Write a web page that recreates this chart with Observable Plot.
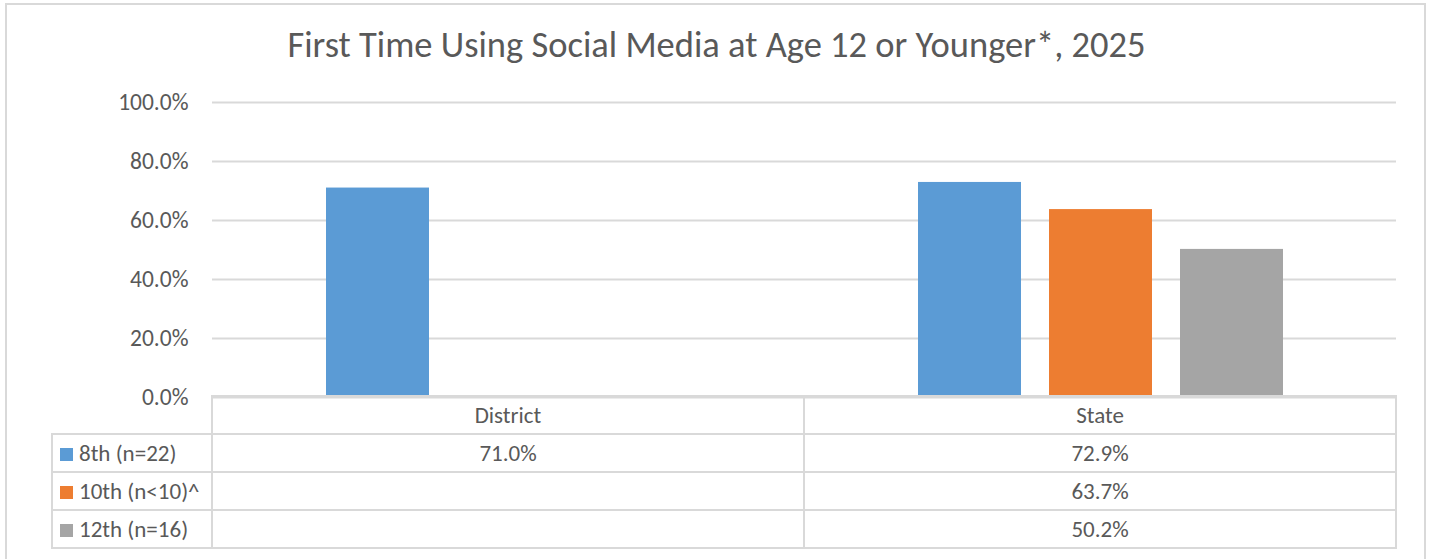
<!DOCTYPE html>
<html>
<head>
<meta charset="utf-8">
<script src="https://cdn.jsdelivr.net/npm/d3@7"></script>
<script src="https://cdn.jsdelivr.net/npm/@observablehq/plot@0.6"></script>
<style>
  html, body { margin: 0; padding: 0; background: #fff; }
  #wrap { position: relative; width: 1433px; height: 559px; overflow: hidden; font-family: Calibri, Carlito, Lato, sans-serif; color: #595959; }
  #frame { position: absolute; left: 5px; top: 3px; width: 1421px; height: 600px; border: 2px solid #d9d9d9; box-sizing: border-box; }
  #title { position: absolute; left: 0; width: 1433px; top: 25px; text-align: center; font-size: 36.5px; line-height: 40px; white-space: nowrap; }
  #chart { position: absolute; left: 0; top: 80px; }
  #tbl { position: absolute; left: 51px; top: 395px; border-collapse: collapse; font-size: 23px; table-layout: fixed; }
  #tbl td { border: 2px solid #d9d9d9; height: 36px; padding: 0; text-align: center; white-space: nowrap; }
  #tbl td.lab { text-align: left; padding-left: 7px; }
  #tbl td.blank { border-top: hidden; border-left: hidden; }
  .sw { display: inline-block; width: 13px; height: 13px; margin-right: 6px; vertical-align: 0px; }
</style>
</head>
<body>
<div id="wrap">
  <div id="frame"></div>
  <div id="title"></div>
  <div id="chart"></div>
  <table id="tbl"></table>
</div>
<script>
const title = "First Time Using Social Media at Age 12 or Younger*, 2025";
const places = ["District", "State"];
const grades = ["8th (n=22)", "10th (n<10)^", "12th (n=16)"];
const districtValues = [71.0, null, null];
const stateValues = [72.9, 63.7, 50.2];
const gradeColors = ["#5B9BD5", "#ED7D31", "#A5A5A5"];
const yTicks = [0, 20, 40, 60, 80, 100];

const valuesByPlace = {District: districtValues, State: stateValues};
const data = [];
for (const p of places) {
  grades.forEach((g, i) => {
    const v = valuesByPlace[p][i];
    if (v != null) data.push({place: p, grade: g, value: v});
  });
}

document.getElementById("title").textContent = title;

const chart = Plot.plot({
  width: 1433,
  height: 340,
  marginTop: 22,
  marginBottom: 23,
  marginLeft: 212,
  marginRight: 37,
  style: {fontSize: "23.5px", fontFamily: "Calibri, Carlito, Lato, sans-serif", color: "#595959", background: "transparent", overflow: "visible"},
  fx: {domain: places, padding: 0, axis: null},
  x: {domain: grades, paddingInner: 0.214, paddingOuter: 0.866, axis: null},
  y: {domain: [0, 100], ticks: yTicks, tickFormat: d => d.toFixed(1) + "%", tickSize: 0, tickPadding: 24, label: null},
  color: {domain: grades, range: gradeColors},
  marks: [
    Plot.ruleY(yTicks, {stroke: "#d9d9d9", strokeWidth: 2}),
    Plot.barY(data, {fx: "place", x: "grade", y: "value", fill: "grade", inset: 0})
  ]
});
document.getElementById("chart").appendChild(chart);

// data table under the chart
const tbl = document.getElementById("tbl");
const colW = [160, 592, 592];
const cg = document.createElement("colgroup");
colW.forEach(w => { const c = document.createElement("col"); c.style.width = w + "px"; cg.appendChild(c); });
tbl.appendChild(cg);
const hr = document.createElement("tr");
const blank = document.createElement("td"); blank.className = "blank"; hr.appendChild(blank);
places.forEach(p => { const td = document.createElement("td"); td.textContent = p; hr.appendChild(td); });
tbl.appendChild(hr);
grades.forEach((g, i) => {
  const tr = document.createElement("tr");
  const lab = document.createElement("td"); lab.className = "lab";
  const sw = document.createElement("span"); sw.className = "sw"; sw.style.background = gradeColors[i];
  lab.appendChild(sw); lab.appendChild(document.createTextNode(g));
  tr.appendChild(lab);
  places.forEach(p => {
    const v = valuesByPlace[p][i];
    const td = document.createElement("td");
    td.textContent = v != null ? v.toFixed(1) + "%" : "";
    tr.appendChild(td);
  });
  tbl.appendChild(tr);
});
</script>
</body>
</html>
